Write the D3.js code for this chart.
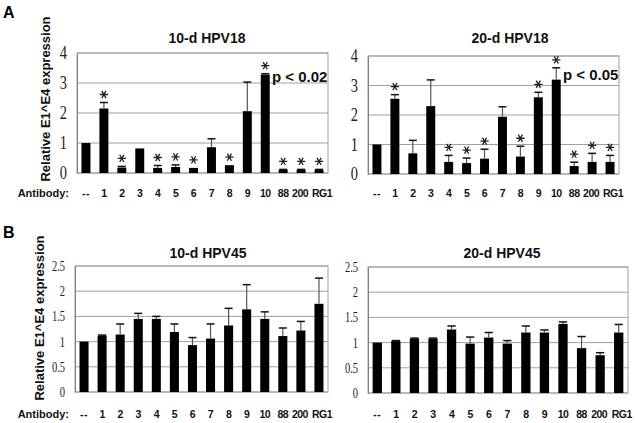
<!DOCTYPE html>
<html>
<head>
<meta charset="utf-8">
<script src="https://cdn.jsdelivr.net/npm/d3@7"></script>
<style>
    body { margin: 0; background: #fff; }
</style>
</head>
<body>
<div id="app"></div>
<script>
const antibodies = ['--', '1', '2', '3', '4', '5', '6', '7', '8', '9', '10', '88', '200', 'RG1'];

// HPV18, 10 days
const hpv18d10 = [1.0, 2.15, 0.18, 0.82, 0.17, 0.2, 0.17, 0.86, 0.26, 2.06, 3.28, 0.11, 0.11, 0.11];
const hpv18d10Err = [0, 0.2, 0.04, 0, 0.08, 0.07, 0, 0.28, 0, 0.97, 0.03, 0.01, 0.01, 0.01];
const hpv18d10Star = [0, 1, 1, 0, 1, 1, 1, 0, 1, 0, 1, 1, 1, 1];

// HPV18, 20 days
const hpv18d20 = [1.0, 2.55, 0.7, 2.3, 0.41, 0.37, 0.52, 1.94, 0.59, 2.6, 3.2, 0.27, 0.41, 0.41];
const hpv18d20Err = [0, 0.14, 0.44, 0.89, 0.22, 0.17, 0.32, 0.34, 0.35, 0.17, 0.4, 0.13, 0.29, 0.22];
const hpv18d20Star = [0, 1, 0, 0, 1, 1, 1, 0, 1, 1, 1, 1, 1, 1];

// HPV45, 10 days
const hpv45d10 = [1.0, 1.12, 1.14, 1.45, 1.45, 1.19, 0.93, 1.06, 1.32, 1.64, 1.45, 1.11, 1.22, 1.75];
const hpv45d10Err = [0, 0.01, 0.21, 0.11, 0.05, 0.16, 0.15, 0.29, 0.34, 0.49, 0.14, 0.16, 0.18, 0.51];

// HPV45, 20 days
const hpv45d20 = [1.0, 1.03, 1.08, 1.08, 1.26, 0.98, 1.1, 0.98, 1.2, 1.2, 1.37, 0.89, 0.75, 1.2];
const hpv45d20Err = [0, 0.01, 0.01, 0.01, 0.07, 0.13, 0.1, 0.06, 0.13, 0.05, 0.04, 0.23, 0.05, 0.16];

const ticks18 = [0, 1, 2, 3, 4];
const ticks45 = [0, 0.5, 1, 1.5, 2, 2.5];

const width = 636;
const height = 423;
const sans = 'Liberation Sans, Arial, sans-serif';
const serif = 'Liberation Serif, Times New Roman, serif';

const svg = d3.select('#app').append('svg')
    .attr('width', width)
    .attr('height', height)
    .style('background-color', '#fff');

const starPath = d3.symbol().type(d3.symbolAsterisk).size(48)();

function drawPanel(cfg) {
    const x = d3.scaleBand()
        .domain(antibodies)
        .range([cfg.x0, cfg.x1])
        .paddingInner(0.5)
        .paddingOuter(0.25);

    const y = d3.scaleLinear()
        .domain([0, d3.max(cfg.ticks)])
        .range([cfg.yBot, cfg.yTop]);

    const g = svg.append('g');

    // gridlines
    g.append('g')
        .selectAll('line')
        .data(cfg.ticks)
        .join('line')
        .attr('x1', cfg.x0)
        .attr('x2', cfg.x1)
        .attr('y1', d => y(d))
        .attr('y2', d => y(d))
        .attr('stroke', '#a0a0a0')
        .attr('stroke-width', 1);

    // plot frame
    g.append('rect')
        .attr('x', cfg.x0)
        .attr('y', cfg.yTop)
        .attr('width', cfg.x1 - cfg.x0)
        .attr('height', cfg.yBot - cfg.yTop)
        .attr('fill', 'none')
        .attr('stroke', '#a0a0a0');

    // y axis
    const yAxis = g.append('g')
        .attr('transform', `translate(${cfg.x0},0)`)
        .call(d3.axisLeft(y).tickValues(cfg.ticks).tickSize(0).tickPadding(10).tickFormat(d3.format('')));
    yAxis.select('.domain').attr('stroke', '#808080');
    yAxis.selectAll('text')
        .attr('font-family', serif)
        .attr('font-size', cfg.tickSize)
        .attr('fill', '#222')
        .attr('transform', `scale(${cfg.tickSquash},1)`)
        .attr('x', -10 / cfg.tickSquash);

    // bars
    g.append('g')
        .selectAll('rect')
        .data(cfg.values)
        .join('rect')
        .attr('x', (d, i) => x(antibodies[i]))
        .attr('y', d => y(d))
        .attr('width', x.bandwidth())
        .attr('height', d => y(0) - y(d))
        .attr('fill', '#000');

    // error bars (upper only)
    const err = g.append('g')
        .selectAll('g')
        .data(cfg.values.map((v, i) => ({ v, e: cfg.errors[i], i })).filter(d => d.e > 0))
        .join('g');
    err.append('line')
        .attr('x1', d => x(antibodies[d.i]) + x.bandwidth() / 2)
        .attr('x2', d => x(antibodies[d.i]) + x.bandwidth() / 2)
        .attr('y1', d => y(d.v))
        .attr('y2', d => y(d.v + d.e))
        .attr('stroke', '#555')
        .attr('stroke-width', 1.2);
    err.append('line')
        .attr('x1', d => x(antibodies[d.i]) + 0.5)
        .attr('x2', d => x(antibodies[d.i]) + x.bandwidth() - 0.5)
        .attr('y1', d => y(d.v + d.e))
        .attr('y2', d => y(d.v + d.e))
        .attr('stroke', '#111')
        .attr('stroke-width', 1.5);

    // significance stars
    if (cfg.stars) {
        g.append('g')
            .selectAll('path')
            .data(cfg.values.map((v, i) => ({ top: v + cfg.errors[i], i })).filter(d => cfg.stars[d.i]))
            .join('path')
            .attr('d', starPath)
            .attr('transform', d => `translate(${x(antibodies[d.i]) + x.bandwidth() / 2},${y(d.top) - 8}) rotate(90)`)
            .attr('fill', 'none')
            .attr('stroke', '#222')
            .attr('stroke-width', 1.3);
    }

    // category labels (the last two sit a little wider apart)
    g.append('g')
        .selectAll('text')
        .data(antibodies)
        .join('text')
        .attr('x', d => x(d) + x.bandwidth() / 2)
        .attr('dx', d => d === 'RG1' ? 3 : d === '200' ? -1 : 0)
        .attr('y', cfg.labelY)
        .attr('text-anchor', 'middle')
        .attr('font-family', sans)
        .attr('font-weight', 'bold')
        .attr('font-size', 10.5)
        .attr('letter-spacing', d => d === '--' ? 0.5 : -0.5)
        .attr('fill', '#111')
        .text(d => d);

    if (cfg.antibodyLabel) {
        g.append('text')
            .attr('x', 69)
            .attr('y', cfg.labelY)
            .attr('text-anchor', 'end')
            .attr('font-family', sans)
            .attr('font-weight', 'bold')
            .attr('font-size', 11)
            .attr('fill', '#111')
            .text('Antibody:');
    }

    // title
    g.append('text')
        .attr('x', cfg.titleX)
        .attr('y', cfg.titleY)
        .attr('text-anchor', 'middle')
        .attr('font-family', sans)
        .attr('font-weight', 'bold')
        .attr('font-size', 14)
        .attr('fill', '#111')
        .text(cfg.title);

    if (cfg.pText) {
        g.append('text')
            .attr('x', cfg.pX)
            .attr('y', cfg.pY)
            .attr('font-family', sans)
            .attr('font-weight', 'bold')
            .attr('font-size', 15)
            .attr('fill', '#111')
            .text(cfg.pText);
    }
}

drawPanel({
    x0: 77, x1: 328, yTop: 53, yBot: 173,
    ticks: ticks18, tickSize: 18, tickSquash: 0.8,
    values: hpv18d10, errors: hpv18d10Err, stars: hpv18d10Star,
    labelY: 197, antibodyLabel: true,
    title: '10-d HPV18', titleX: 207, titleY: 43,
    pText: 'p < 0.02', pX: 272, pY: 82
});

drawPanel({
    x0: 368, x1: 619, yTop: 56, yBot: 174,
    ticks: ticks18, tickSize: 18, tickSquash: 0.8,
    values: hpv18d20, errors: hpv18d20Err, stars: hpv18d20Star,
    labelY: 197, antibodyLabel: false,
    title: '20-d HPV18', titleX: 510, titleY: 43,
    pText: 'p < 0.05', pX: 563, pY: 80
});

drawPanel({
    x0: 75, x1: 328, yTop: 266, yBot: 392,
    ticks: ticks45, tickSize: 14, tickSquash: 0.75,
    values: hpv45d10, errors: hpv45d10Err,
    labelY: 418, antibodyLabel: true,
    title: '10-d HPV45', titleX: 208, titleY: 258
});

drawPanel({
    x0: 368, x1: 628, yTop: 267, yBot: 393,
    ticks: ticks45, tickSize: 14, tickSquash: 0.75,
    values: hpv45d20, errors: hpv45d20Err,
    labelY: 418, antibodyLabel: false,
    title: '20-d HPV45', titleX: 502, titleY: 258
});

// y axis titles
[[50, 99], [44, 318]].forEach(([tx, ty]) => {
    svg.append('text')
        .attr('transform', `translate(${tx},${ty}) rotate(-90)`)
        .attr('text-anchor', 'middle')
        .attr('font-family', sans)
        .attr('font-weight', 'bold')
        .attr('font-size', 13)
        .attr('fill', '#111')
        .text('Relative E1^E4 expression');
});

// panel letters
[['A', 18], ['B', 238]].forEach(([t, ty]) => {
    svg.append('text')
        .attr('x', 3)
        .attr('y', ty)
        .attr('font-family', sans)
        .attr('font-weight', 'bold')
        .attr('font-size', 16)
        .attr('fill', '#000')
        .text(t);
});
</script>
</body>
</html>
